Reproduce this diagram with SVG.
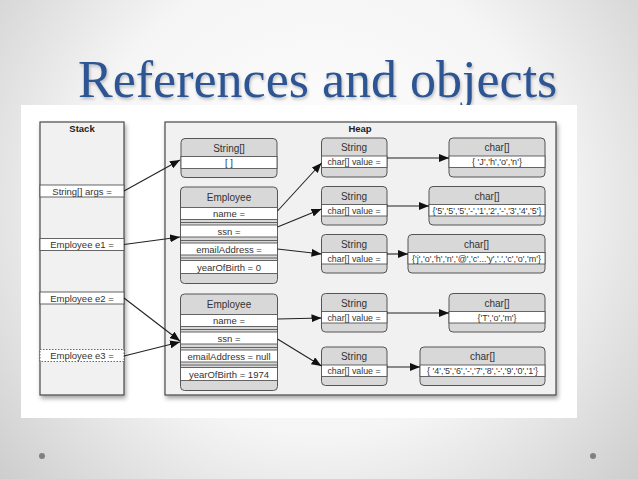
<svg xmlns="http://www.w3.org/2000/svg" width="638" height="479" viewBox="0 0 638 479">
<defs>
<radialGradient id="bg" cx="319" cy="200" r="430" gradientUnits="userSpaceOnUse">
<stop offset="0" stop-color="#ffffff"/>
<stop offset="0.55" stop-color="#f5f5f5"/>
<stop offset="1" stop-color="#cccccc"/>
</radialGradient>
<filter id="sh" x="-10%" y="-10%" width="125%" height="125%">
<feDropShadow dx="1.5" dy="3" stdDeviation="2" flood-color="#000" flood-opacity="0.35"/>
</filter>
<filter id="tsh" x="-5%" y="-20%" width="110%" height="150%">
<feDropShadow dx="1" dy="2" stdDeviation="1.5" flood-color="#000" flood-opacity="0.25"/>
</filter>
<marker id="ah" viewBox="0 0 10 8" refX="10" refY="4" markerWidth="10" markerHeight="8" markerUnits="userSpaceOnUse" orient="auto">
<path d="M0,0 L10,4 L0,8 Z" fill="#111"/>
</marker>
<style>
.t{font-family:"Liberation Sans",Arial,sans-serif;font-size:9.5px;fill:#333;text-anchor:middle}
.h{font-size:10px}
.s{font-size:8.8px}
.b{font-weight:bold;fill:#222}
.area{fill:#f1f1f1;stroke:#4a4a4a;stroke-width:1.2}
.box{fill:#d8d8d8;stroke:#555;stroke-width:1}
.row{fill:#fff;stroke:#555;stroke-width:0.9}
.ln{stroke:#555;stroke-width:0.9}
.c{stroke:#222;stroke-width:1.1;fill:none;marker-end:url(#ah)}
</style>
</defs>
<rect width="638" height="479" fill="url(#bg)"/>
<text x="78" y="97" font-family="'Liberation Serif','Times New Roman',serif" font-size="52" fill="#2e5593" filter="url(#tsh)">References and objects</text>
<rect x="21" y="105" width="556" height="313" fill="#fff"/>
<circle cx="42" cy="456" r="3" fill="#808080"/>
<circle cx="593" cy="456" r="3" fill="#808080"/>

<g id="stack">
<rect class="area" x="40" y="122" width="84" height="273" filter="url(#sh)"/>
<text class="t b" x="82" y="132">Stack</text>
<rect class="row" x="40" y="185" width="84" height="12"/>
<text class="t" x="82" y="194.5">String[] args =</text>
<rect class="row" x="40" y="238.5" width="84" height="12"/>
<text class="t" x="82" y="248">Employee e1 =</text>
<rect class="row" x="40" y="292" width="84" height="12"/>
<text class="t" x="82" y="301.5">Employee e2 =</text>
<rect x="40" y="349.5" width="84" height="12" fill="#fff" stroke="#555" stroke-width="0.9" stroke-dasharray="1.5,1.5"/>
<text class="t" x="82" y="359">Employee e3 =</text>
</g>

<g id="heap">
<rect class="area" x="165" y="122" width="391" height="273" filter="url(#sh)"/>
<text class="t b" x="360" y="132">Heap</text>
</g>

<g id="stringarray">
<rect class="box" x="181" y="138.5" width="96" height="39" rx="4"/>
<rect class="row" x="181" y="156.5" width="96" height="12"/>
<text class="t h" x="229" y="151.5">String[]</text>
<text class="t" x="229" y="166">[ ]</text>
</g>

<g id="employee1">
<rect class="box" x="180.5" y="187" width="97" height="96.5" rx="4"/>
<text class="t h" x="229" y="200.5">Employee</text>
<rect class="row" x="180.5" y="207.5" width="97" height="12"/>
<line class="ln" x1="180.5" y1="222.5" x2="277.5" y2="222.5"/>
<rect class="row" x="180.5" y="225" width="97" height="12"/>
<line class="ln" x1="180.5" y1="240.5" x2="277.5" y2="240.5"/>
<rect class="row" x="180.5" y="243" width="97" height="12"/>
<line class="ln" x1="180.5" y1="258" x2="277.5" y2="258"/>
<rect class="row" x="180.5" y="260.5" width="97" height="13"/>
<text class="t" x="229" y="217">name =</text>
<text class="t" x="229" y="234.5">ssn =</text>
<text class="t" x="229" y="252.5">emailAddress =</text>
<text class="t" x="229" y="270.5">yearOfBirth = 0</text>
</g>

<g id="employee2">
<rect class="box" x="180.5" y="294" width="97" height="96.5" rx="4"/>
<text class="t h" x="229" y="307.5">Employee</text>
<rect class="row" x="180.5" y="314.5" width="97" height="12"/>
<line class="ln" x1="180.5" y1="329.5" x2="277.5" y2="329.5"/>
<rect class="row" x="180.5" y="332" width="97" height="12"/>
<line class="ln" x1="180.5" y1="347.5" x2="277.5" y2="347.5"/>
<rect class="row" x="180.5" y="350" width="97" height="12"/>
<line class="ln" x1="180.5" y1="365" x2="277.5" y2="365"/>
<rect class="row" x="180.5" y="367.5" width="97" height="13"/>
<text class="t" x="229" y="324">name =</text>
<text class="t" x="229" y="341.5">ssn =</text>
<text class="t" x="229" y="359.5">emailAddress = null</text>
<text class="t" x="229" y="377.5">yearOfBirth = 1974</text>
</g>

<g id="string1">
<rect class="box" x="321.5" y="138" width="65.5" height="39" rx="4"/>
<rect class="row" x="321.5" y="156" width="65.5" height="11.5"/>
<text class="t h" x="354" y="151">String</text>
<text class="t s" x="354" y="165">char[] value =</text>
</g>
<g id="char1">
<rect class="box" x="449" y="138" width="96" height="39" rx="4"/>
<rect class="row" x="449" y="156" width="96" height="11.5"/>
<text class="t h" x="497" y="151">char[]</text>
<text class="t s" x="497" y="165" textLength="50" lengthAdjust="spacingAndGlyphs">{ 'J','h','o','n'}</text>
</g>

<g id="string2">
<rect class="box" x="321.5" y="186.5" width="65.5" height="38.5" rx="4"/>
<rect class="row" x="321.5" y="204.5" width="65.5" height="11.5"/>
<text class="t h" x="354" y="199.5">String</text>
<text class="t s" x="354" y="213.5">char[] value =</text>
</g>
<g id="char2">
<rect class="box" x="429" y="186.5" width="116" height="38.5" rx="4"/>
<rect class="row" x="429" y="204.5" width="116" height="11.5"/>
<text class="t h" x="487" y="199.5">char[]</text>
<text class="t s" x="487" y="213.5" textLength="109" lengthAdjust="spacingAndGlyphs">{'5','5','5','-','1','2','-','3','4','5'}</text>
</g>

<g id="string3">
<rect class="box" x="321.5" y="234.5" width="65.5" height="38.5" rx="4"/>
<rect class="row" x="321.5" y="252.5" width="65.5" height="11.5"/>
<text class="t h" x="354" y="247.5">String</text>
<text class="t s" x="354" y="261.5">char[] value =</text>
</g>
<g id="char3">
<rect class="box" x="408" y="234.5" width="137" height="38.5" rx="4"/>
<rect class="row" x="408" y="252.5" width="137" height="11.5"/>
<text class="t h" x="476.5" y="247.5">char[]</text>
<text class="t s" x="476.5" y="261.5" textLength="129" lengthAdjust="spacingAndGlyphs">{'j','o','h','n','@','c'...'y','.','c','o','m'}</text>
</g>

<g id="string4">
<rect class="box" x="321.5" y="293.5" width="65.5" height="38.5" rx="4"/>
<rect class="row" x="321.5" y="311.5" width="65.5" height="11.5"/>
<text class="t h" x="354" y="306.5">String</text>
<text class="t s" x="354" y="320.5">char[] value =</text>
</g>
<g id="char4">
<rect class="box" x="449" y="293.5" width="96" height="38.5" rx="4"/>
<rect class="row" x="449" y="311.5" width="96" height="11.5"/>
<text class="t h" x="497" y="306.5">char[]</text>
<text class="t s" x="497" y="320.5" textLength="39" lengthAdjust="spacingAndGlyphs">{'T','o','m'}</text>
</g>

<g id="string5">
<rect class="box" x="321.5" y="347" width="65.5" height="38.5" rx="4"/>
<rect class="row" x="321.5" y="365" width="65.5" height="11.5"/>
<text class="t h" x="354" y="360">String</text>
<text class="t s" x="354" y="374">char[] value =</text>
</g>
<g id="char5">
<rect class="box" x="420" y="347" width="125" height="38.5" rx="4"/>
<rect class="row" x="420" y="365" width="125" height="11.5"/>
<text class="t h" x="482.5" y="360">char[]</text>
<text class="t s" x="482.5" y="374" textLength="111" lengthAdjust="spacingAndGlyphs">{ '4','5','6','-','7','8','-','9','0','1'}</text>
</g>

<g id="connectors">
<line class="c" x1="124" y1="191" x2="180" y2="160"/>
<line class="c" x1="124" y1="244.5" x2="180" y2="237"/>
<line class="c" x1="124" y1="298" x2="180" y2="341"/>
<line class="c" x1="124" y1="356" x2="180" y2="342"/>
<line class="c" x1="277.5" y1="211" x2="321.5" y2="163"/>
<line class="c" x1="277.5" y1="227" x2="321.5" y2="209"/>
<line class="c" x1="277.5" y1="249" x2="321.5" y2="254"/>
<line class="c" x1="277.5" y1="319" x2="321.5" y2="318"/>
<line class="c" x1="277.5" y1="339" x2="321.5" y2="366"/>
<line class="c" x1="387" y1="158" x2="449" y2="158"/>
<line class="c" x1="387" y1="206" x2="429" y2="206"/>
<line class="c" x1="387" y1="254" x2="408" y2="254"/>
<line class="c" x1="387" y1="313" x2="449" y2="313"/>
<line class="c" x1="387" y1="367" x2="420" y2="367"/>
</g>
</svg>
